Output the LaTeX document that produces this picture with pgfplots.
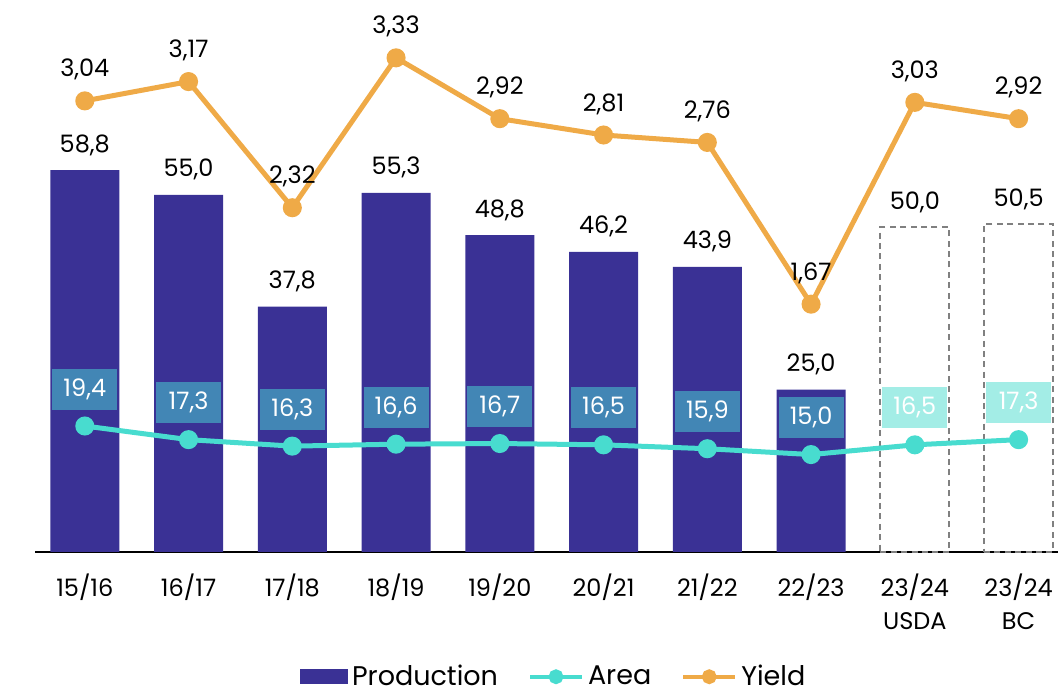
\documentclass[border=0pt]{standalone}
\usepackage{fontspec}
\setmainfont{Poppins}
\usepackage{pgfplots}
\pgfplotsset{compat=1.18}

\definecolor{prodblue}{HTML}{3A3195}
\definecolor{areacyan}{HTML}{48DCCF}
\definecolor{yieldorange}{HTML}{EFAA47}
\definecolor{boxblue}{HTML}{4286B5}
\definecolor{boxlight}{HTML}{A3EDE6}

\begin{document}
\begin{tikzpicture}
\tikzset{lbl/.style={font=\fontsize{12}{14}\selectfont}}
\pgfplotsset{
  base/.style={scale only axis, width=511.5pt, height=276pt,
    xmin=-0.48, xmax=9.38, ymin=0, clip=false,
    /pgf/number format/.cd, use comma, fixed, fixed zerofill, assume math mode=true},
}
\begin{axis}[base, ymax=85, name=ax,
  axis x line*=bottom, axis y line=none,
  x axis line style={line width=1pt, black, -},
  xtick={0,...,9},
  xticklabels={15/16,16/17,17/18,18/19,19/20,20/21,21/22,22/23,{23/24\\USDA},{23/24\\BC}},
  xticklabel style={align=center, font=\fontsize{12}{16.5}\selectfont, yshift=-7.5pt},
  major tick length=0pt, ytick=\empty,
  legend columns=3,
  legend style={draw=none, fill=none, at={(0.508,-0.226)}, anchor=center,
    font=\fontsize{13.5}{15}\selectfont,
    /tikz/every even column/.append style={column sep=13pt}},
  legend cell align=left,
]
\addplot[ybar, bar width=34.5pt, bar shift=0pt, fill=prodblue, draw=none,
  nodes near coords, /pgf/number format/precision=1,
  every node near coord/.style={lbl, black, anchor=base, yshift=9pt},
  legend image code/.code={\fill[prodblue] (0pt,-3.75pt) rectangle (24pt,3.75pt);}]
  coordinates {(0,58.8) (1,55.0) (2,37.8) (3,55.3) (4,48.8) (5,46.2) (6,43.9) (7,25.0)};
\addlegendentry{Production}
\addplot[ybar, bar width=34.5pt, bar shift=0pt, fill=none, draw=gray, line width=0.9pt,
  dash pattern=on 3pt off 2.2pt, forget plot,
  nodes near coords, /pgf/number format/precision=1,
  every node near coord/.style={lbl, black, anchor=base, yshift=9pt}]
  coordinates {(8,50.0) (9,50.5)};
\addplot[areacyan, line width=2.5pt, mark=*, mark size=3.5pt,
  nodes near coords, /pgf/number format/precision=1,
  every node near coord/.style={lbl, text=white, anchor=south, yshift=7pt,
    minimum width=32.5pt, minimum height=20.5pt, inner sep=0pt},
  coordinate style/.condition={\coordindex<8}{fill=boxblue},
  coordinate style/.condition={\coordindex>7}{fill=boxlight},
  legend image code/.code={\draw[areacyan, line width=2pt, mark=*, mark size=2.7pt, mark repeat=2, mark phase=2] plot coordinates {(0pt,0pt) (13pt,0pt) (26pt,0pt)};}]
  coordinates {(0,19.4) (1,17.3) (2,16.3) (3,16.6) (4,16.7) (5,16.5) (6,15.9) (7,15.0) (8,16.5) (9,17.3)};
\addlegendentry{Area}
\addlegendimage{legend image code/.code={\draw[yieldorange, line width=2pt, mark=*, mark size=2.7pt, mark repeat=2, mark phase=2] plot coordinates {(0pt,0pt) (13pt,0pt) (26pt,0pt)};}}
\addlegendentry{Yield}
\end{axis}
\begin{axis}[base, ymax=3.72, hide axis]
\addplot[yieldorange, line width=2.5pt, mark=*, mark size=3.5pt,
  nodes near coords, /pgf/number format/precision=2,
  every node near coord/.style={lbl, black, anchor=base, yshift=12pt}]
  coordinates {(0,3.04) (1,3.17) (2,2.32) (3,3.33) (4,2.92) (5,2.81) (6,2.76) (7,1.67) (8,3.03) (9,2.92)};
\end{axis}
\path[use as bounding box] ([xshift=-17.5pt,yshift=-68.5pt]ax.south west) rectangle ([xshift=1.5pt]ax.north east);
\end{tikzpicture}
\end{document}
